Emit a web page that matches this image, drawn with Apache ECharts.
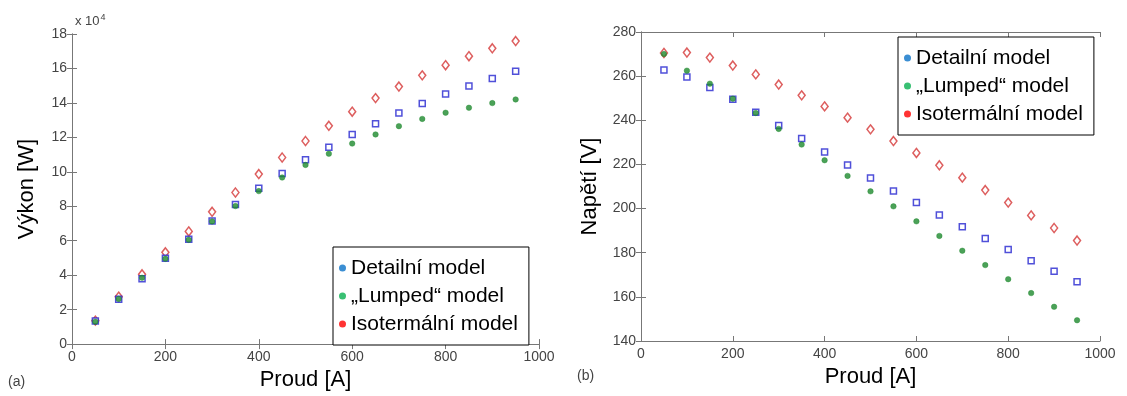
<!DOCTYPE html>
<html><head><meta charset="utf-8">
<script src="https://cdn.jsdelivr.net/npm/echarts@6/dist/echarts.min.js"></script>
<style>html,body{margin:0;padding:0;background:#fff}#c{width:1127px;height:396px}</style>
</head><body><div id="c"></div>
<script>
const current = [50,100,150,200,250,300,350,400,450,500,550,600,650,700,750,800,850,900,950];
const seriesNames = ['Detailní model', '\u201ELumped\u201C model', 'Isotermální model'];
// Power in units of 10^4 W
const detailPower = [1.34,2.6,3.8,4.99,6.08,7.15,8.1,9.04,9.9,10.7,11.43,12.16,12.79,13.42,13.97,14.51,14.98,15.42,15.84];
const lumpedPower = [1.3,2.62,3.85,4.95,6.05,7.12,8.01,8.88,9.67,10.4,11.05,11.64,12.17,12.65,13.07,13.43,13.72,13.99,14.2];
const isoPower = [1.36,2.75,4.05,5.33,6.54,7.68,8.8,9.87,10.83,11.79,12.67,13.49,14.28,14.95,15.6,16.19,16.71,17.17,17.59];
// Voltage [V]
const detailVoltage = [262.8,259.6,254.8,249.5,243.6,237.6,231.7,225.6,219.7,213.8,208.0,202.7,197.1,191.8,186.4,181.5,176.4,171.6,166.9];
const lumpedVoltage = [270.0,262.5,256.6,249.8,243.3,236.1,229.0,221.9,214.8,207.8,201.0,194.2,187.6,180.9,174.4,168.0,161.7,155.5,149.4];
const isoVoltage = [270.5,270.7,268.4,264.8,260.8,256.2,251.3,246.3,241.2,235.9,230.6,225.2,219.6,214.0,208.4,202.7,196.9,191.2,185.5];

const zip = (xs, ys) => xs.map((x, i) => [x, ys[i]]);
const FONT = 'Liberation Sans, Arial, sans-serif';
const axisLineStyle = {lineStyle:{color:'#777', width:1}};
const tickStyle = {show:true, inside:true, length:5, lineStyle:{color:'#777'}};
const labelStyle = {color:'#444', fontSize:14, fontFamily:FONT, formatter:(v) => String(v)};
const nameStyle = {color:'#000', fontSize:22, fontFamily:FONT};

function xAxes(gi, name) {
  return [
    {gridIndex:gi, type:'value', min:0, max:1000, interval:200, position:'bottom',
     axisLine:axisLineStyle, axisTick:tickStyle, splitLine:{show:false},
     axisLabel:Object.assign({margin:6}, labelStyle),
     name:name, nameLocation:'middle', nameGap:22, nameTextStyle:nameStyle},
    {gridIndex:gi, type:'value', min:0, max:1000, interval:200, position:'top',
     axisLine:axisLineStyle, axisTick:tickStyle, splitLine:{show:false}, axisLabel:{show:false}}
  ];
}
function yAxes(gi, min, max, interval, name, gap) {
  return [
    {gridIndex:gi, type:'value', min:min, max:max, interval:interval, position:'left',
     axisLine:axisLineStyle, axisTick:tickStyle, splitLine:{show:false},
     axisLabel:Object.assign({margin:5}, labelStyle),
     name:name, nameLocation:'middle', nameGap:gap, nameTextStyle:nameStyle},
    {gridIndex:gi, type:'value', min:min, max:max, interval:interval, position:'right',
     axisLine:axisLineStyle, axisTick:tickStyle, splitLine:{show:false}, axisLabel:{show:false}}
  ];
}
const blueSym = {symbol:'rect', symbolSize:6, itemStyle:{color:'#fff', borderColor:'#2424d0', borderWidth:1.5}};
const greenSym = {symbol:'circle', symbolSize:5.5, itemStyle:{color:'#1e8a2e', borderColor:'#1e8a2e', borderWidth:0.5}};
const redSym = {symbol:'diamond', symbolSize:[7,9], itemStyle:{color:'#fff', borderColor:'#d43636', borderWidth:1.5}};

function mk(name, gi, data, sym, z) {
  return Object.assign({type:'scatter', name:name, xAxisIndex:gi*2, yAxisIndex:gi*2, data:data, z:z,
    emphasis:{disabled:true}}, JSON.parse(JSON.stringify(sym)));
}
const legendData = [
  {name:seriesNames[0], icon:'circle', itemStyle:{color:'#0a72c8', borderWidth:0}},
  {name:seriesNames[1], icon:'circle', itemStyle:{color:'#08b050', borderWidth:0}},
  {name:seriesNames[2], icon:'circle', itemStyle:{color:'#ff0000', borderWidth:0}}
];
function legend(left, top) {
  return {orient:'vertical', left:left, top:top, data:legendData, itemWidth:7, itemHeight:7, itemGap:6,
    padding:[10,11,10,6], borderColor:'#000', borderWidth:1, backgroundColor:'#fff',
    textStyle:{fontSize:21, lineHeight:22, fontFamily:FONT, color:'#000', padding:[0,0,0,0]}, selectedMode:false};
}

const chart = echarts.init(document.getElementById('c'), null, {renderer:'canvas'});
chart.setOption({
  animation:false,
  backgroundColor:'#fff',
  grid:[
    {left:72, top:34, width:467, height:314},
    {left:641, top:32, width:459, height:309}
  ],
  xAxis: [...xAxes(0,'Proud [A]'), ...xAxes(1,'Proud [A]')],
  yAxis: [...yAxes(0,0,18,2,'Výkon [W]',34), ...yAxes(1,140,280,20,'Napětí [V]',40)],
  legend:[legend(333,247), legend(898,37)],
  graphic:[
    {type:'text', left:75, top:13, style:{text:'{a|x 10}{s|4}', rich:{a:{fontSize:13, fontFamily:FONT, fill:'#444'}, s:{fontSize:9, fontFamily:FONT, fill:'#444', verticalAlign:'top', padding:[0,0,8,1]}}}},
    {type:'text', left:8, top:375, style:{text:'(a)', fontSize:14, fontFamily:FONT, fill:'#444'}},
    {type:'text', left:577, top:369, style:{text:'(b)', fontSize:14, fontFamily:FONT, fill:'#444'}}
  ],
  series:[
    mk(seriesNames[0], 0, zip(current, detailPower), blueSym, 3),
    mk(seriesNames[1], 0, zip(current, lumpedPower), greenSym, 4),
    mk(seriesNames[2], 0, zip(current, isoPower), redSym, 2),
    mk(seriesNames[0], 1, zip(current, detailVoltage), blueSym, 3),
    mk(seriesNames[1], 1, zip(current, lumpedVoltage), greenSym, 4),
    mk(seriesNames[2], 1, zip(current, isoVoltage), redSym, 2)
  ]
});
</script></body></html>
